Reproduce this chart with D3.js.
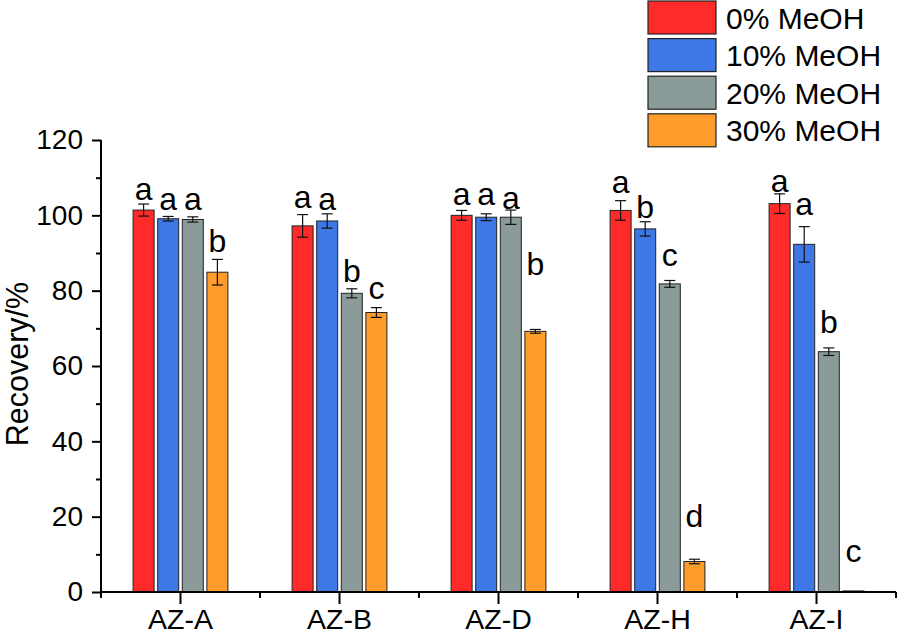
<!DOCTYPE html>
<html><head><meta charset="utf-8">
<script src="https://cdn.jsdelivr.net/npm/d3@7"></script>
<style>
body{margin:0;background:#fff;}
svg{display:block;font-family:"Liberation Sans",Arial,sans-serif;}
</style></head>
<body><svg id="c" width="898" height="635"></svg>
<script>
const categories = ["AZ-A","AZ-B","AZ-D","AZ-H","AZ-I"];
const series = ["0% MeOH","10% MeOH","20% MeOH","30% MeOH"];
const colors = ["#FF2B2B","#3E78E6","#8A9B99","#FF9D2C"];
const v0  = [101.4, 97.2, 100.0, 101.3, 103.1];
const v10 = [99.1, 98.5, 99.5, 96.4, 92.3];
const v20 = [98.9, 79.3, 99.5, 81.8, 63.8];
const v30 = [84.9, 74.2, 69.2, 8.1, 0.3];
const e0  = [1.6, 3.0, 1.3, 2.6, 2.6];
const e10 = [0.6, 1.9, 0.9, 1.9, 4.7];
const e20 = [0.7, 1.2, 1.9, 0.9, 1.0];
const e30 = [3.4, 1.3, 0.5, 0.6, 0.0];
const l0  = ["a","a","a","a","a"];
const l10 = ["a","a","a","b","a"];
const l20 = ["a","b","a","c","b"];
const l30 = ["b","c","b","d","c"];
// letter baseline heights (in data units)
const h0  = [104.1, 101.9, 102.7, 105.8, 106.3];
const h10 = [101.4, 101.4, 102.7, 99.2, 100.1];
const h20 = [101.4, 82.4, 101.6, 86.5, 68.7];
const h30 = [90.3, 77.7, 84.2, 17.3, 8.0];
const yTicks = [0,20,40,60,80,100,120];
const yMinor = [10,30,50,70,90,110];

const vals=[v0,v10,v20,v30], errs=[e0,e10,e20,e30], labs=[l0,l10,l20,l30], hs=[h0,h10,h20,h30];
const data=[];
categories.forEach((c,i)=>series.forEach((s,j)=>data.push({c,s,j,v:vals[j][i],e:errs[j][i],l:labs[j][i],h:hs[j][i]})));

const svg=d3.select("#c");
const y=d3.scaleLinear().domain([0,120]).range([592,140]);
const x0=d3.scaleBand().domain(categories).range([101,896]).padding(0);
const gw=94.8;
const x1=d3.scaleBand().domain(series).range([0,gw]).paddingInner(0.146).paddingOuter(0);
const bx=d=>x0(d.c)+(x0.bandwidth()-gw)/2+x1(d.s);

// bars
svg.append("g").selectAll("rect").data(data).join("rect")
  .attr("x",d=>bx(d)).attr("width",x1.bandwidth())
  .attr("y",d=>y(d.v)).attr("height",d=>Math.max(0.8,y(0)-y(d.v)))
  .attr("fill",d=>colors[d.j]).attr("stroke",d=>d.v<1?"#333":"#222").attr("stroke-width",1);

// error bars
const eb=svg.append("g").attr("stroke","#111").attr("stroke-width",1.2);
data.filter(d=>d.e>0).forEach(d=>{
  const cx=bx(d)+x1.bandwidth()/2;
  eb.append("line").attr("x1",cx).attr("x2",cx).attr("y1",y(d.v+d.e)).attr("y2",y(d.v-d.e));
  eb.append("line").attr("x1",cx-5.5).attr("x2",cx+5.5).attr("y1",y(d.v+d.e)).attr("y2",y(d.v+d.e));
  eb.append("line").attr("x1",cx-5.5).attr("x2",cx+5.5).attr("y1",y(d.v-d.e)).attr("y2",y(d.v-d.e));
});

// letters
svg.append("g").selectAll("text").data(data).join("text")
  .attr("x",d=>bx(d)+x1.bandwidth()/2).attr("y",d=>y(d.h))
  .attr("text-anchor","middle").attr("font-size",32).attr("fill","#000").text(d=>d.l);

// y axis
const ya=svg.append("g").attr("transform","translate(101,0)")
  .call(d3.axisLeft(y).tickValues(yTicks).tickSize(9).tickPadding(9).tickFormat(d3.format("d")));
ya.selectAll("text").attr("font-size",28).attr("font-family","Liberation Sans, Arial, sans-serif").attr("fill","#000");
ya.select(".domain").attr("d","M0,"+y(120)+"V"+y(0)).attr("stroke-width",2);
ya.selectAll(".tick line").attr("stroke-width",2);
const ym=svg.append("g").attr("transform","translate(101,0)")
  .call(d3.axisLeft(y).tickValues(yMinor).tickSize(5).tickFormat(""));
ym.select(".domain").remove();
ym.selectAll(".tick line").attr("stroke-width",2);

// x axis
const xa=svg.append("g").attr("transform","translate(0,592)")
  .call(d3.axisBottom(x0).tickSize(12).tickPadding(8).tickSizeOuter(0));
xa.select(".domain").attr("d","M101,0H896").attr("stroke-width",2);
xa.selectAll(".tick line").attr("stroke-width",2);
xa.selectAll("text").attr("font-size",28.5).attr("font-family","Liberation Sans, Arial, sans-serif").attr("fill","#000")
  .attr("dy",null).attr("y",null).attr("dominant-baseline","auto").attr("transform","translate(0,37)");
const edges=categories.map(c=>x0(c)).concat([x0(categories[categories.length-1])+x0.bandwidth()]);
svg.append("g").selectAll("line").data(edges).join("line")
  .attr("x1",d=>d).attr("x2",d=>d).attr("y1",592).attr("y2",598)
  .attr("stroke","#000").attr("stroke-width",2);

// y label
svg.append("text").attr("transform","translate(28,364) rotate(-90)")
  .attr("text-anchor","middle").attr("font-size",30.5).attr("fill","#000").text("Recovery/%");

// legend
const lg=svg.append("g");
series.forEach((s,j)=>{
  lg.append("rect").attr("x",648).attr("y",1+j*37.6).attr("width",68).attr("height",33)
    .attr("fill",colors[j]).attr("stroke","#222").attr("stroke-width",1.2);
  lg.append("text").attr("x",726).attr("y",28.5+j*37.6).attr("font-size",30).attr("fill","#000").text(s);
});
</script></body></html>
